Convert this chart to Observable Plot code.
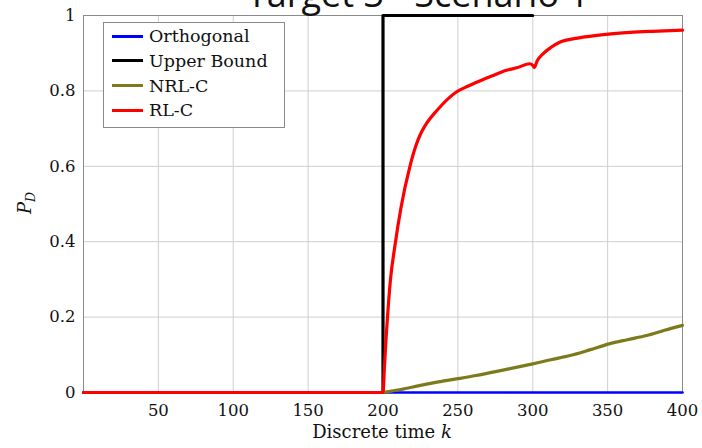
<!DOCTYPE html>
<html>
<head>
<meta charset="utf-8">
<script src="https://cdn.jsdelivr.net/npm/d3@7"></script>
<script src="https://cdn.jsdelivr.net/npm/@observablehq/plot@0.6"></script>
<style>
  html, body { margin: 0; padding: 0; background: white; overflow: hidden; }
  #wrap { position: relative; width: 702px; height: 448px; }
  #legend {
    position: absolute; left: 103px; top: 22px; width: 180px; height: 104px;
    border: 1px solid #8a8a8a; background: white;
    font-family: "DejaVu Serif", serif; font-size: 17.5px; color: #111;
    box-sizing: content-box;
  }
  .row { position: absolute; left: 8px; height: 24px; display: flex; align-items: center; white-space: nowrap; }
  .sw { width: 31px; height: 3px; margin-right: 6px; }
</style>
</head>
<body>
<div id="wrap"></div>
<script>
// ---- data ----
const titleText = "Target 3 - Scenario 1";
const xTicks = [50, 100, 150, 200, 250, 300, 350, 400];
const yTicks = [0, 0.2, 0.4, 0.6, 0.8, 1];

const seriesNames = ["Orthogonal", "Upper Bound", "NRL-C", "RL-C"];
const seriesColors = ["#0000ff", "#000000", "#7d7a1c", "#ff0000"];

const orthK = [0, 100, 200, 300, 400];
const orthP = [0, 0, 0, 0, 0];

const upperK = [0, 200, 200, 300];
const upperP = [0, 0, 1, 1];

const nrlK = [200, 212, 225, 237, 249, 262, 276, 288, 300, 312, 325, 338, 351, 363, 376, 388, 400];
const nrlP = [0, 0.008, 0.019, 0.028, 0.036, 0.045, 0.056, 0.066, 0.076, 0.087, 0.098, 0.113, 0.129, 0.14, 0.151, 0.165, 0.178];

const rlK = [0, 100, 200, 201, 202, 203, 205, 208, 212, 218, 222, 225, 228, 236, 249, 257, 265, 273, 282, 290, 298, 300, 301, 303, 307, 312, 318, 330, 349, 365, 380, 400];
const rlP = [0, 0, 0, 0.07, 0.14, 0.2, 0.3, 0.39, 0.49, 0.6, 0.655, 0.685, 0.707, 0.748, 0.797, 0.813, 0.827, 0.84, 0.854, 0.862, 0.872, 0.868, 0.862, 0.88, 0.899, 0.915, 0.929, 0.94, 0.95, 0.955, 0.958, 0.961];

const toRows = (ks, ps) => ks.map((k, i) => ({k, p: ps[i]}));
const orth = toRows(orthK, orthP);
const upper = toRows(upperK, upperP);
const nrl = toRows(nrlK, nrlP);
const rl = toRows(rlK, rlP);

const serif = "'DejaVu Serif', serif";

const chart = Plot.plot({
  width: 702,
  height: 448,
  marginLeft: 83,
  marginRight: 20,
  marginTop: 15,
  marginBottom: 56,
  x: {domain: [0, 400]},
  y: {domain: [0, 1]},
  style: {fontFamily: serif, fontSize: "16px", background: "white", color: "#111"},
  marks: [
    Plot.gridX(xTicks, {stroke: "#cfcfcf", strokeOpacity: 1, strokeWidth: 1}),
    Plot.gridY(yTicks, {stroke: "#cfcfcf", strokeOpacity: 1, strokeWidth: 1}),
    Plot.frame({stroke: "#8a8a8a", strokeWidth: 1}),
    Plot.axisX(xTicks, {tickSize: 0, tickPadding: 12, label: null, fontSize: 16.5, fontFamily: serif}),
    Plot.axisY(yTicks, {tickSize: 0, tickPadding: 8, label: null, fontSize: 16.5, fontFamily: serif, tickFormat: d => String(d)}),
    Plot.line(upper, {x: "k", y: "p", stroke: seriesColors[1], strokeWidth: 3.2, curve: "linear"}),
    Plot.line(orth, {x: "k", y: "p", stroke: seriesColors[0], strokeWidth: 2.6}),
    Plot.line(nrl, {x: "k", y: "p", stroke: seriesColors[2], strokeWidth: 3.2, curve: "monotone-x"}),
    Plot.line(rl, {x: "k", y: "p", stroke: seriesColors[3], strokeWidth: 3.2, curve: "monotone-x"})
  ]
});

const wrap = document.getElementById("wrap");
wrap.appendChild(chart);
const svg = d3.select(chart);
svg.style("overflow", "visible").style("display", "block");

// title (partly above the page top, as in the reference)
svg.append("text")
  .attr("x", 418).attr("y", 7)
  .attr("text-anchor", "middle")
  .style("font-family", "'Open Sans', sans-serif")
  .attr("font-size", 36)
  .attr("fill", "#111")
  .text(titleText);

// x label
const xl = svg.append("text")
  .attr("x", 382).attr("y", 438)
  .attr("text-anchor", "middle")
  .style("font-family", serif)
  .attr("font-size", 18)
  .attr("fill", "#111");
xl.append("tspan").text("Discrete time ");
xl.append("tspan").attr("font-style", "italic").text("k");

// y label
const yl = svg.append("text")
  .attr("transform", "translate(31,203) rotate(-90)")
  .attr("text-anchor", "middle")
  .style("font-family", serif)
  .attr("font-size", 18)
  .attr("fill", "#111");
yl.append("tspan").attr("font-style", "italic").text("P");
yl.append("tspan").attr("font-style", "italic").attr("font-size", 12.5).attr("dy", 4).text("D");

// legend
const legend = document.createElement("div");
legend.id = "legend";
seriesNames.forEach((name, i) => {
  const row = document.createElement("div");
  row.className = "row";
  row.style.top = (1 + i * 24.8) + "px";
  const sw = document.createElement("div");
  sw.className = "sw";
  sw.style.background = seriesColors[i];
  const t = document.createElement("span");
  t.textContent = name;
  row.appendChild(sw);
  row.appendChild(t);
  legend.appendChild(row);
});
wrap.appendChild(legend);
</script>
</body>
</html>
